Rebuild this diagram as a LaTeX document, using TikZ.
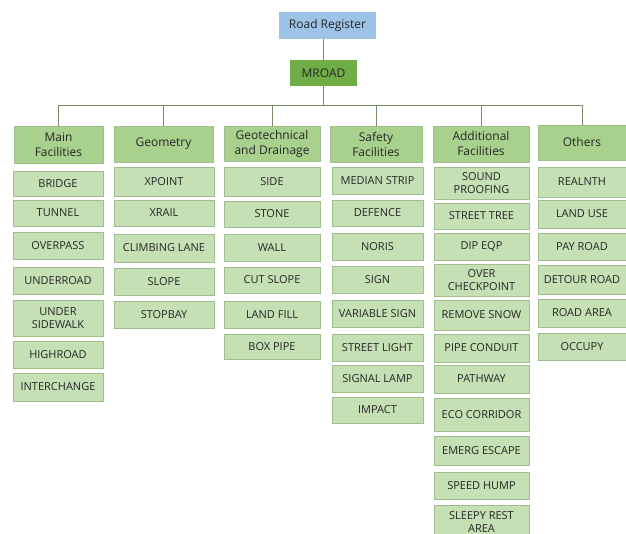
\documentclass[tikz,border=0pt]{standalone}
\usepackage{fontspec}
\setmainfont{Open Sans}
\usepackage{tikz}
\definecolor{regblue}{RGB}{157,195,230}
\definecolor{rootgreen}{RGB}{112,173,71}
\definecolor{headgreen}{RGB}{169,209,142}
\definecolor{itemgreen}{RGB}{197,224,180}
\definecolor{edgegreen}{RGB}{160,190,140}
\definecolor{linkgray}{RGB}{120,140,105}
\definecolor{txt}{RGB}{38,38,38}
\tikzset{
  box/.style={inner sep=0pt,align=center,text=txt},
  top/.style={box,font=\fontsize{12}{13}\selectfont},
  head/.style={box,fill=headgreen,draw=edgegreen,line width=0.6pt,font=\fontsize{12}{15}\selectfont},
  item/.style={box,fill=itemgreen,draw=edgegreen,line width=0.6pt,font=\fontsize{11}{12.5}\selectfont},
  link/.style={linkgray,line width=1pt}
}
\begin{document}
\begin{tikzpicture}[x=1pt,y=-1pt]
\useasboundingbox (0,0) rectangle (626,534);
\node[top,fill=regblue,minimum width=97,minimum height=27] (reg) at (327.5,25.5) {Road Register};
\node[top,fill=rootgreen,minimum width=67,minimum height=26] (mroad) at (323.5,73) {MROAD};
\coordinate (bus) at (323.5,106);
\node[head,minimum width=89,minimum height=37] (main) at (58.5,144.5) {Main\\Facilities};
\node[head,minimum width=99,minimum height=36] (geom) at (163.5,144) {Geometry};
\node[head,minimum width=96,minimum height=35] (geo) at (272,143.5) {Geotechnical\\and Drainage};
\node[head,minimum width=92,minimum height=36] (safe) at (376,144) {Safety\\Facilities};
\node[head,minimum width=96,minimum height=36] (add) at (481,144) {Additional\\Facilities};
\node[head,minimum width=88,minimum height=35] (oth) at (582,142.5) {Others};
\draw[link] (mroad |- reg.south) -- (mroad);
\draw[link] (mroad) -- (bus);
\foreach \h in {main,geom,geo,safe,add,oth}
  \draw[link] (bus) -| (\h);
% items
\foreach \n/\y/\hh/\t in {bridge/183.5/25/BRIDGE, tunnel/213/26/TUNNEL, overpass/245.5/27/OVERPASS,
    underroad/280.5/27/UNDERROAD, undersw/318/36/{UNDER\\SIDEWALK}, highroad/354.5/27/HIGHROAD,
    interchange/387/28/INTERCHANGE}
  \node[item,minimum width=90,minimum height=\hh] (\n) at (58,\y) {\t};
\foreach \n/\y/\hh/\t in {xpoint/181.5/29/XPOINT, xrail/213/26/XRAIL, climbing/248/28/CLIMBING LANE,
    slope/281.5/27/SLOPE, stopbay/314.5/27/STOPBAY}
  \node[item,minimum width=100,minimum height=\hh] (\n) at (164,\y) {\t};
\foreach \n/\y/\hh/\t in {side/181.5/29/SIDE, stone/214/26/STONE, wall/247.5/27/WALL,
    cutslope/280/26/CUT SLOPE, landfill/314.5/27/LAND FILL, boxpipe/346.5/25/BOX PIPE}
  \node[item,minimum width=96,minimum height=\hh] (\n) at (272,\y) {\t};
\foreach \n/\y/\hh/\t in {median/180.5/27/MEDIAN STRIP, defence/213/26/DEFENCE, noris/246.5/27/NORIS,
    sign/279.5/27/SIGN, varsign/313.5/27/VARIABLE SIGN, streetlight/347.5/27/STREET LIGHT,
    signallamp/378.5/27/SIGNAL LAMP, impact/410/26/IMPACT}
  \node[item,minimum width=91,minimum height=\hh] (\n) at (377.5,\y) {\t};
\foreach \n/\y/\hh/\t in {sound/183/32/{SOUND\\PROOFING}, streettree/216/26/STREET TREE,
    dipeqp/246.5/27/DIP EQP, overcheck/280/32/{OVER\\CHECKPOINT}, removesnow/315/30/REMOVE SNOW,
    pipeconduit/348/28/PIPE CONDUIT, pathway/379/28/PATHWAY, eco/414.5/33/ECO CORRIDOR,
    emerg/450.5/29/EMERG ESCAPE, speedhump/485.5/27/SPEED HUMP, sleepy/522/34/{SLEEPY REST\\AREA}}
  \node[item,minimum width=95,minimum height=\hh] (\n) at (481.5,\y) {\t};
\foreach \n/\y/\hh/\t in {realnth/182/30/REALNTH, landuse/214/28/LAND USE, payroad/246.5/27/PAY ROAD,
    detour/279.5/29/DETOUR ROAD, roadarea/313/28/ROAD AREA, occupy/346.5/27/OCCUPY}
  \node[item,minimum width=88,minimum height=\hh] (\n) at (582,\y) {\t};
\end{tikzpicture}
\end{document}
